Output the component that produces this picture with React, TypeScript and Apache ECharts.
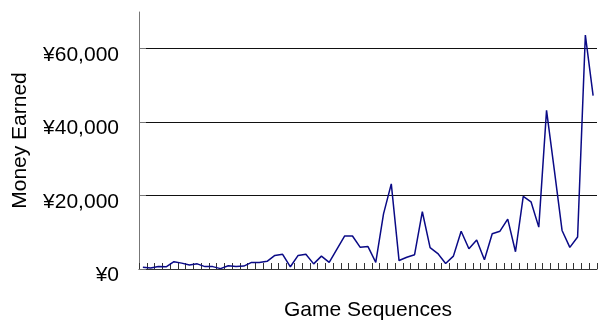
import React, { useEffect, useRef } from "react";
import * as echarts from "echarts";

const games: string[] = Array.from({ length: 59 }, (_, i) => `Game ${i + 1}`);
const moneyEarned: number[] = [
  450, 250, 700, 600, 2000, 1600, 1100, 1400, 650, 650,
  100, 900, 700, 800, 1800, 1800, 2100, 3700, 4000, 600,
  3700, 4000, 1400, 3500, 1800, 5400, 9000, 9000, 5900, 6100,
  1800, 15000, 23200, 2300, 3200, 3900, 15600, 5800, 4200, 1500,
  3500, 10300, 5500, 7900, 2500, 9600, 10300, 13600, 4700, 19800,
  18300, 11400, 43200, 27000, 10500, 5900, 8700, 63700, 47200,
];
const yTicks: number[] = [0, 20000, 40000, 60000];

const FONT = "'Liberation Sans', Arial, sans-serif";

export default function App() {
  const ref = useRef<HTMLDivElement>(null);
  useEffect(() => {
    if (!ref.current) return;
    const chart = echarts.init(ref.current, null, { renderer: "svg" });
    chart.setOption({
      animation: false,
      grid: { left: 138, right: 1, top: 12, bottom: 50, containLabel: false },
      xAxis: {
        type: "category",
        data: games,
        boundaryGap: true,
        name: "Game Sequences",
        nameLocation: "middle",
        nameGap: 29,
        nameTextStyle: { fontFamily: FONT, fontSize: 21, color: "#000" },
        axisLine: { show: true, lineStyle: { color: "#333", width: 1 } },
        axisTick: { show: true, inside: true, length: 6, interval: 0, lineStyle: { color: "#333" } },
        axisLabel: { show: false },
        splitLine: { show: false },
      },
      yAxis: {
        type: "value",
        min: 0,
        max: 70000,
        interval: 20000,
        name: "Money Earned",
        nameLocation: "middle",
        nameGap: 110,
        nameTextStyle: { fontFamily: FONT, fontSize: 21, color: "#000" },
        axisLine: { show: true, lineStyle: { color: "#777", width: 1 } },
        axisTick: { show: true, inside: true, length: 7, lineStyle: { color: "#777" } },
        axisLabel: {
          fontFamily: FONT,
          fontSize: 21,
          color: "#000",
          margin: 20,
          verticalAlign: "top",
          lineHeight: 9,
          showMaxLabel: false,
          formatter: (v: number) =>
            yTicks.includes(v) ? "¥" + v.toLocaleString("en-US") : "",
        },
        splitLine: {
          show: true,
          showMinLine: false,
          showMaxLine: false,
          lineStyle: { color: "#111", width: 1 },
        },
      },
      series: [
        {
          type: "line",
          data: moneyEarned,
          symbol: "none",
          lineStyle: { color: "#0a0a86", width: 1.5 },
        },
      ],
    });
    return () => chart.dispose();
  }, []);
  return (
    <div
      ref={ref}
      style={{ position: "fixed", left: 0, top: 0, width: 598, height: 324 }}
    />
  );
}
